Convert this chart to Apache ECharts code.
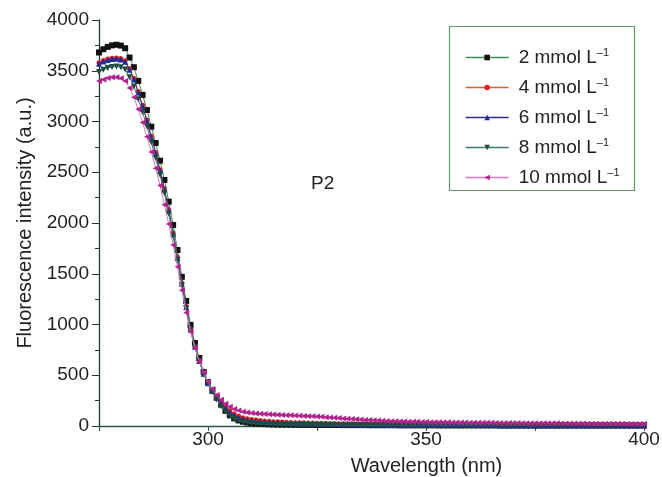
<!DOCTYPE html>
<html>
<head>
<meta charset="utf-8">
<script src="https://cdn.jsdelivr.net/npm/echarts@6/dist/echarts.min.js"></script>
<style>
html,body{margin:0;padding:0;background:#fff;}
#chart{width:662px;height:477px;}
</style>
</head>
<body>
<div id="chart"></div>
<script>
// Wavelengths 275..400 nm, 1 nm step
const wavelengths = [275,276,277,278,279,280,281,282,283,284,285,286,287,288,289,290,291,292,293,294,295,296,297,298,299,300,
301,302,303,304,305,306,307,308,309,310,311,312,313,314,315,316,317,318,319,320,
321,322,323,324,325,326,327,328,329,330,331,332,333,334,335,336,337,338,339,340,
341,342,343,344,345,346,347,348,349,350,351,352,353,354,355,356,357,358,359,360,
361,362,363,364,365,366,367,368,369,370,371,372,373,374,375,376,377,378,379,380,
381,382,383,384,385,386,387,388,389,390,391,392,393,394,395,396,397,398,399,400];

const seriesNames = ['2 mmol L', '4 mmol L', '6 mmol L', '8 mmol L', '10 mmol L'];

const conc2 = [3680,3712,3735,3750,3756,3748,3722,3630,3535,3400,3262,3113,2949,2788,2614,2424,2210,1980,1734,1470,1232,996,818,670,533,432,
352,280,210,150,105,75,55,42,34,28,24,21,19,17,16,15,14,13,13,12,
12,12,11,11,11,10,10,10,10,10,9,9,9,9,9,9,8,8,8,8,
8,8,8,7,7,7,7,7,7,7,7,7,6,6,6,6,6,6,6,6,
6,6,6,6,6,6,5,5,5,5,5,5,5,5,5,5,5,5,5,5,
5,5,5,5,5,5,5,5,5,5,5,5,5,5,5,5,5,5,5,5];

const conc4 = [3578,3600,3615,3624,3626,3620,3598,3520,3425,3295,3160,3015,2855,2695,2525,2340,2130,1905,1665,1410,1180,955,785,645,518,425,
352,288,235,190,150,120,98,82,72,64,58,53,49,46,43,41,39,37,35,33,
32,31,30,29,28,27,26,25,24,23,22,21,21,20,20,19,19,18,18,17,
17,17,16,16,16,15,15,15,15,14,14,14,14,13,13,13,13,13,12,12,
12,12,12,12,11,11,11,11,11,11,11,11,10,10,10,10,10,10,10,10,
10,10,10,10,10,10,9,9,9,9,9,9,9,9,9,9,9,9,9,9];

const conc6 = [3568,3590,3606,3615,3617,3610,3588,3510,3415,3285,3150,3005,2845,2685,2515,2330,2120,1895,1655,1402,1172,950,780,640,515,422,
345,278,222,175,135,105,84,70,60,53,48,44,40,37,35,33,31,29,28,27,
26,25,24,23,22,21,20,20,19,18,18,17,17,16,16,15,15,14,14,14,
13,13,13,12,12,12,12,11,11,11,11,11,10,10,10,10,10,10,9,9,
9,9,9,9,9,9,8,8,8,8,8,8,8,8,8,8,8,8,8,8,
8,8,8,7,7,7,7,7,7,7,7,7,7,7,7,7,7,7,7,7];

const conc8 = [3488,3510,3528,3538,3541,3535,3512,3435,3345,3220,3090,2950,2795,2640,2475,2295,2090,1870,1635,1385,1160,940,775,635,512,418,
335,262,195,140,98,70,52,40,32,26,22,19,17,15,14,13,12,11,11,10,
10,9,9,9,8,8,8,8,7,7,7,7,7,7,6,6,6,6,6,6,
6,6,6,5,5,5,5,5,5,5,5,5,5,5,5,5,5,5,5,5,
4,4,4,4,4,4,4,4,4,4,4,4,4,4,4,4,4,4,4,4,
4,4,4,4,4,4,4,4,4,4,4,4,4,4,4,4,4,4,4,4];

const conc10 = [3400,3415,3428,3435,3435,3425,3400,3330,3240,3120,2990,2850,2700,2540,2370,2180,1990,1783,1570,1337,1115,930,770,637,532,435,
365,305,258,220,190,168,152,141,133,127,123,120,117,115,113,111,109,107,105,103,
101,99,97,95,93,90,87,84,81,78,75,72,69,66,63,60,58,56,54,52,
50,48,46,45,44,43,42,41,40,39,38,37,37,36,36,35,35,34,34,33,
33,32,32,31,31,30,30,30,29,29,29,28,28,28,27,27,27,26,26,26,
25,25,25,24,24,24,23,23,23,22,22,22,21,21,21,20,20,20,20,20];

const yTicks = [0,500,1000,1500,2000,2500,3000,3500,4000];
const xTickLabels = [300,350,400];

const allData = [conc2, conc4, conc6, conc8, conc10];
const lineColors = ['#3f8f55', '#ee5a2c', '#2c2c8c', '#3c7a72', '#d27ac0'];
const markerColors = ['#111111', '#e3231f', '#1f2a9a', '#1e4c3e', '#b2238e'];
const symbols = ['rect', 'circle', 'triangle', 'triangle', 'triangle'];
const symbolRot = [0, 0, 0, 180, 90];
const symbolSizes = [6, 5, 6, 6, 6];

const FONT = 'Liberation Sans, Arial, sans-serif';

const series = allData.map((arr, i) => ({
  name: seriesNames[i],
  type: 'line',
  data: wavelengths.map((w, k) => [w, arr[k]]),
  symbol: symbols[i],
  symbolSize: symbolSizes[i],
  symbolRotate: symbolRot[i],
  showAllSymbol: true,
  animation: false,
  lineStyle: { color: lineColors[i], width: 1 },
  itemStyle: { color: markerColors[i], borderWidth: 0 },
  z: 2 + i
}));

const chart = echarts.init(document.getElementById('chart'));
chart.setOption({
  backgroundColor: '#ffffff',
  animation: false,
  textStyle: { fontFamily: FONT },
  grid: { left: 99, right: 18, top: 20, bottom: 51, containLabel: false, outerBoundsMode: 'none' },
  xAxis: {
    type: 'value',
    min: 275, max: 400, interval: 25,
    name: 'Wavelength (nm)',
    nameLocation: 'middle',
    nameGap: 30,
    nameTextStyle: { fontSize: 20, color: '#222', padding: [0, 0, 0, 110] },
    axisLine: { lineStyle: { color: '#2c5442', width: 1.3 } },
    axisTick: { show: true, length: 5, inside: false, lineStyle: { color: '#2c5442' } },
    axisLabel: {
      fontSize: 19, color: '#222', margin: 4,
      formatter: v => (xTickLabels.indexOf(v) >= 0 ? String(v) : '')
    },
    splitLine: { show: false }
  },
  yAxis: {
    type: 'value',
    min: 0, max: 4000, interval: 500,
    name: 'Fluorescence intensity (a.u.)',
    nameLocation: 'middle',
    nameGap: 54,
    nameTextStyle: { fontSize: 20, color: '#222' },
    axisLine: { show: true, lineStyle: { color: '#1e3a2a', width: 1.3 } },
    axisTick: { show: true, length: 7, lineStyle: { color: '#1e3a2a' } },
    minorTick: { show: true, splitNumber: 2, length: 4, lineStyle: { color: '#1e3a2a' } },
    axisLabel: { fontSize: 19, color: '#222', margin: 10, formatter: v => String(v) },
    splitLine: { show: false }
  },
  legend: {
    orient: 'vertical',
    left: 465,
    top: 47,
    padding: 0,
    itemWidth: 43,
    itemHeight: 7,
    itemGap: 10,
    data: seriesNames,
    lineStyle: { width: 1.3, color: 'inherit' },
    formatter: name => '{a|' + name + '}{s|–1}',
    textStyle: {
      fontSize: 19, color: '#222',
      rich: {
        a: { fontSize: 19, color: '#222', height: 19, padding: [0, 0, 0, 5] },
        s: { fontSize: 11, color: '#222', padding: [0, 0, 10, 0] }
      }
    }
  },
  graphic: [
    { type: 'rect', left: 447, top: 24, shape: { width: 185, height: 164 },
      style: { fill: 'none', stroke: '#5e9a6e', lineWidth: 1.2 }, z: 1 },
    { type: 'text', left: 311, top: 174, style: { text: 'P2', fontSize: 19, fill: '#222', fontFamily: FONT } }
  ],
  series: series
});
</script>
</body>
</html>
